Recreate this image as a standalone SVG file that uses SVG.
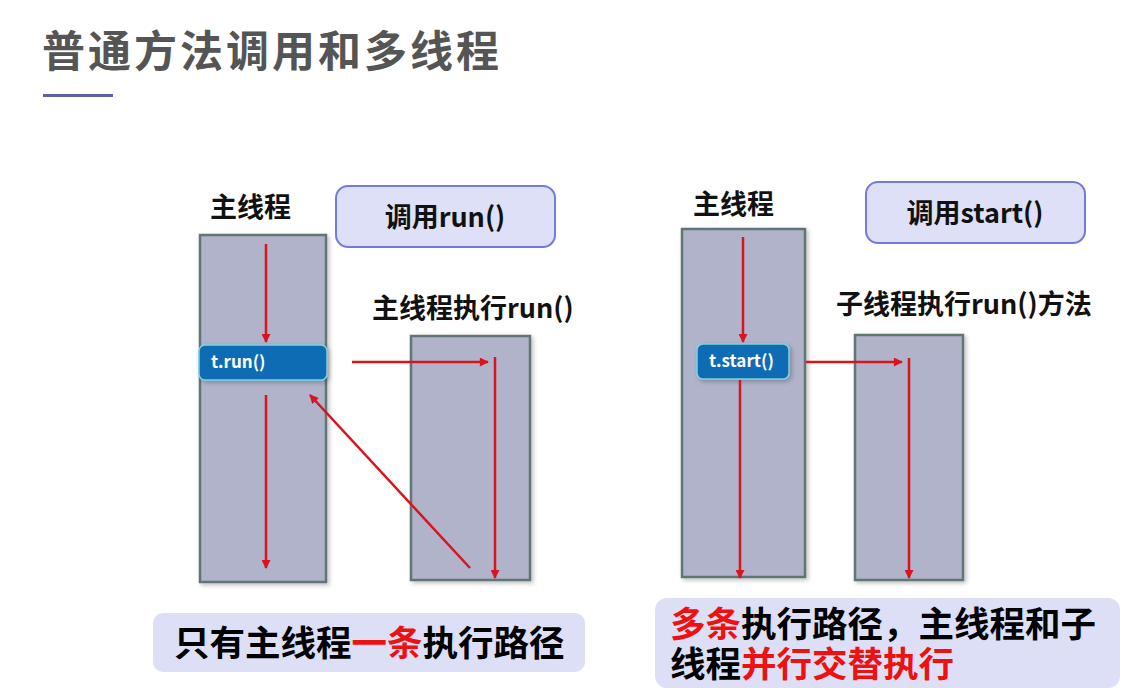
<svg xmlns="http://www.w3.org/2000/svg" width="1139" height="699" viewBox="0 0 1139 699">
<defs>
<marker id="ah" viewBox="0 0 10 10" refX="9" refY="5" markerWidth="4" markerHeight="3.6" orient="auto-start-reverse" markerUnits="strokeWidth">
<path d="M0,0 L10,5 L0,10 z" fill="#d9141c"/>
</marker>
<filter id="sh" x="-10%" y="-10%" width="130%" height="130%">
<feDropShadow dx="2" dy="2" stdDeviation="2" flood-color="#000" flood-opacity="0.25"/>
</filter>
</defs>
<style>
text{font-family:"Noto Sans CJK SC","Microsoft YaHei",sans-serif;font-weight:bold}
.thread{fill:#b0b3c9;stroke:#5e7675;stroke-width:2.5;filter:url(#sh)}
.call{fill:#dde0f7;stroke:#7479dc;stroke-width:2}
.btn{fill:#0e6cb4;stroke:#7fd0e0;stroke-width:1.5;filter:url(#sh)}
.lbl{font-size:27px;fill:#111}
.btxt{font-size:17px;fill:#fff}
.ar{stroke:#d9141c;stroke-width:2.5;fill:none;marker-end:url(#ah)}
.sum{fill:#dcdff6}
.big{font-size:35.5px;fill:#000}
.red{fill:#ee1111}
</style>
<rect width="1139" height="699" fill="#fff"/>
<g id="title">
<text x="42" y="67" font-size="43" fill="#555" letter-spacing="3">普通方法调用和多线程</text>
<rect x="43" y="94" width="70" height="3" fill="#5c62a4"/>
</g>
<g id="left-main">
<text class="lbl" x="210" y="217">主线程</text>
<rect class="thread" x="200" y="235" width="126" height="347"/>
</g>
<g id="call-run">
<rect class="call" x="336" y="186" width="219" height="61" rx="12"/>
<text x="445" y="227" font-size="27" fill="#111" text-anchor="middle">调用run()</text>
</g>
<g id="left-run">
<text class="lbl" x="372" y="318">主线程执行run()</text>
<rect class="thread" x="411" y="336" width="119" height="244"/>
</g>
<g id="t-run">
<rect class="btn" x="199" y="345" width="128" height="35" rx="6"/>
<text class="btxt" x="211" y="368">t.run()</text>
</g>
<g id="right-main">
<text class="lbl" x="693" y="214">主线程</text>
<rect class="thread" x="682" y="229" width="123" height="348"/>
</g>
<g id="call-start">
<rect class="call" x="866" y="182" width="219" height="61" rx="12"/>
<text x="975" y="223" font-size="27" fill="#111" text-anchor="middle">调用start()</text>
</g>
<g id="child">
<text class="lbl" x="836" y="314">子线程执行run()方法</text>
<rect class="thread" x="855" y="335" width="108" height="245"/>
</g>
<g id="t-start">
<rect class="btn" x="697" y="344" width="92" height="35" rx="6"/>
<text class="btxt" x="709" y="367">t.start()</text>
</g>
<g id="connectors">
<line class="ar" x1="266" y1="244" x2="266" y2="342"/>
<line class="ar" x1="352" y1="362" x2="488" y2="362"/>
<line class="ar" x1="495" y1="357" x2="495" y2="578"/>
<line class="ar" x1="266" y1="395" x2="266" y2="568"/>
<line class="ar" x1="470" y1="568" x2="310" y2="395"/>
<line class="ar" x1="743" y1="237" x2="743" y2="342"/>
<line class="ar" x1="740" y1="380" x2="740" y2="578"/>
<line class="ar" x1="806" y1="362" x2="902" y2="362"/>
<line class="ar" x1="909" y1="358" x2="909" y2="578"/>
</g>
<g id="summary-left">
<rect class="sum" x="153" y="613" width="432" height="59" rx="10"/>
<text class="big" x="174" y="656">只有主线程<tspan class="red">一条</tspan>执行路径</text>
</g>
<g id="summary-right">
<rect class="sum" x="655" y="598" width="465" height="90" rx="12"/>
<text class="big" x="670" y="637"><tspan class="red">多条</tspan>执行路径，主线程和子<tspan x="670" dy="40">线程</tspan><tspan class="red">并行交替执行</tspan></text>
</g>
</svg>
